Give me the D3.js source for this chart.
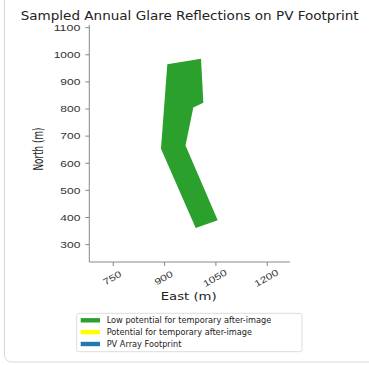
<!DOCTYPE html>
<html><head><meta charset="utf-8">
<script src="https://cdn.jsdelivr.net/npm/d3@7"></script>
<style>body{margin:0;background:#fff}svg{display:block;font-family:"DejaVu Sans",sans-serif}</style>
</head><body><svg id="c" width="369" height="365"></svg>
<script>
const title = "Sampled Annual Glare Reflections on PV Footprint";
const xLabel = "East (m)";
const yLabel = "North (m)";
const xTicks = [750, 900, 1050, 1200];
const yTicks = [300, 400, 500, 600, 700, 800, 900, 1000, 1100];
const footprintEast  = [909.6, 1008, 1014.8, 985.5, 962.7, 1056.8, 992.5, 891];
const footprintNorth = [963, 984, 821, 804, 664, 388, 359, 652];
const legendLabels = ["Low potential for temporary after-image", "Potential for temporary after-image", "PV Array Footprint"];
const legendColors = ["#2ca02c", "#ffff00", "#1f77b4"];

const svg = d3.select("#c");
// outer frame
svg.append("rect").attr("x",4.5).attr("y",-20).attr("width",420).attr("height",382).attr("rx",7)
  .attr("fill","none").attr("stroke","#d8d8d8").attr("stroke-width",1);

const x = d3.scaleLinear().domain([681.6, 1268]).range([89.3, 290]);
const y = d3.scaleLinear().domain([234, 1108]).range([262, 25]);
const fmt = d3.format("d");

// polygon
const pts = footprintEast.map((e,i)=>[x(e), y(footprintNorth[i])]);
svg.append("path").attr("d", d3.line()(pts)+"Z").attr("fill", legendColors[0]);

// axes
const ax = svg.append("g").attr("transform","translate(0,262)")
  .call(d3.axisBottom(x).tickValues(xTicks).tickFormat(fmt).tickSize(4).tickPadding(3));
ax.selectAll("text").attr("font-size",9).attr("fill","#333").attr("text-anchor","middle")
  .attr("y",0).attr("dy","0.35em")
  .attr("transform","translate(-1,16) rotate(-30)")
  .attr("textLength",d=>String(d).length*6.5).attr("lengthAdjust","spacingAndGlyphs");
const ay = svg.append("g").attr("transform","translate(89.3,0)")
  .call(d3.axisLeft(y).tickValues(yTicks).tickFormat(fmt).tickSize(4).tickPadding(5));
ay.selectAll("text").attr("font-size",8.2).attr("fill","#333").attr("dy","0.4em")
  .attr("textLength",d=>String(d).length*6.67).attr("lengthAdjust","spacingAndGlyphs");
svg.selectAll(".domain").attr("stroke","#888");
svg.selectAll(".tick line").attr("stroke","#888");
ax.select(".domain").attr("d","M89.3,0H290");
ay.select(".domain").attr("d","M0,25V262");

// title & labels
svg.append("text").attr("x",20.7).attr("y",20).attr("font-size",12.5).attr("fill","#222")
  .attr("textLength",338).attr("lengthAdjust","spacingAndGlyphs").text(title);
svg.append("text").attr("x",188.7).attr("y",300).attr("text-anchor","middle").attr("font-size",11)
  .attr("fill","#222").attr("textLength",56).attr("lengthAdjust","spacingAndGlyphs").text(xLabel);
svg.append("text").attr("transform","translate(42.5,149) rotate(-90)").attr("text-anchor","middle")
  .attr("font-size",13.5).attr("fill","#222").attr("textLength",43).attr("lengthAdjust","spacingAndGlyphs").text(yLabel);

// legend
const lg = svg.append("g");
lg.append("rect").attr("x",76.7).attr("y",313.3).attr("width",225.3).attr("height",38.4).attr("rx",2)
  .attr("fill","#fff").attr("stroke","#ddd");
const rowY = d3.scalePoint().domain(legendLabels).range([320.3, 344]);
legendLabels.forEach((l,i)=>{
  lg.append("rect").attr("x",80.7).attr("y",rowY(l)-2.2).attr("width",19.3).attr("height",4.4).attr("fill",legendColors[i]);
  lg.append("text").attr("x",106.7).attr("y",rowY(l)).attr("dy","0.35em").attr("font-size",8.2).attr("fill","#222").text(l);
});
</script></body></html>
